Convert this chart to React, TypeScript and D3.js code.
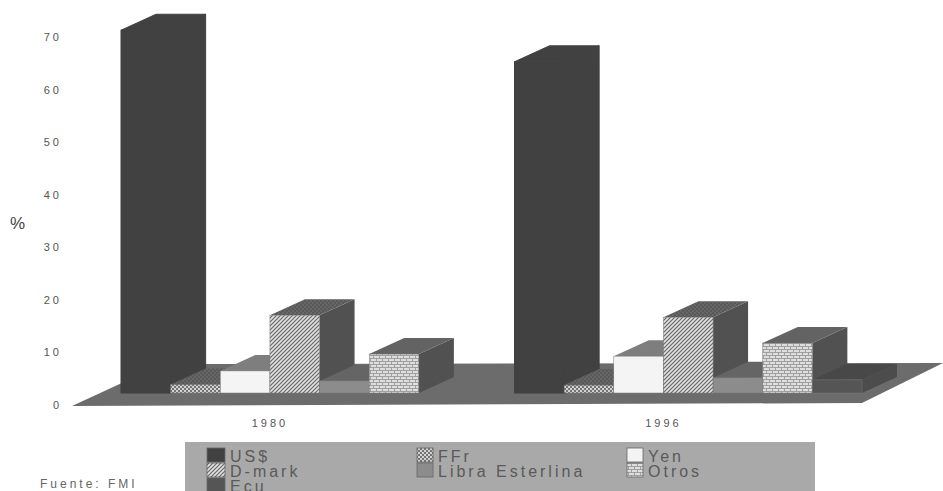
import React from "react";
import * as d3 from "d3";

// Reserve currency shares, in percent
const years = ["1980", "1996"];
const currencies = ["US$", "FFr", "Yen", "D-mark", "Libra Esterlina", "Otros", "Ecu"];
const shares1980 = [69, 1.6, 4.2, 14.8, 2.3, 7.4, 0];
const shares1996 = [63, 1.5, 7, 14.4, 2.9, 9.5, 2.5];
const yTicks = [0, 10, 20, 30, 40, 50, 60, 70];
const legendRows = [
  ["US$", "FFr", "Yen"],
  ["D-mark", "Libra Esterlina", "Otros"],
  ["Ecu"],
];

const WIDTH = 943;
const HEIGHT = 491;
const DEPTH_X = 35;
const DEPTH_Y = 16;
const TICK_DROP = 12;

const frontFill: Record<string, string> = {
  "US$": "#414141",
  FFr: "url(#pat-ffr)",
  Yen: "#f4f4f4",
  "D-mark": "url(#pat-dmark)",
  "Libra Esterlina": "#8c8c8c",
  Otros: "url(#pat-otros)",
  Ecu: "#555555",
};
const sideFill: Record<string, string> = { "US$": "#414141", Ecu: "#4c4c4c" };
const topFill: Record<string, string> = {
  "US$": "#414141",
  FFr: "url(#pat-top)",
  Yen: "#7e7e7e",
  "D-mark": "url(#pat-top)",
  "Libra Esterlina": "#656565",
  Otros: "#636363",
  Ecu: "#484848",
};

const y = d3.scaleLinear().domain([0, 70]).range([393, 25]);
const groupX = d3.scalePoint<string>().domain(years).range([121, 514.5]);
const barX = d3.scaleBand<string>().domain(currencies).range([0, 347.5]);
const legendColX = d3.scaleOrdinal<number, number>().domain([0, 1, 2]).range([207, 417, 627]);
const legendRowY = d3.scaleLinear().domain([0, 2]).range([456, 486]);

const poly = (pts: [number, number][]) => d3.line()(pts) + "Z";

function Bar({ x0, w, value, name }: { x0: number; w: number; value: number; name: string }) {
  if (value <= 0) return null;
  const top = y(value);
  const base = y(0);
  const x1 = x0 + w;
  const solid = name === "US$";
  // The dollar bar is one flat tone, so its faces are outlined in their own fill to hide the seams
  const seam = solid ? { stroke: "#414141", strokeWidth: 1 } : {};
  return (
    <g>
      <path d={poly([[x1, base], [x1 + DEPTH_X, base - DEPTH_Y], [x1 + DEPTH_X, top - DEPTH_Y], [x1, top]])} fill={sideFill[name] ?? "#515151"} {...seam} />
      <path d={poly([[x0, top], [x0 + DEPTH_X, top - DEPTH_Y], [x1 + DEPTH_X, top - DEPTH_Y], [x1, top]])} fill={topFill[name]} {...seam} />
      <rect x={x0} y={top} width={w} height={base - top} fill={frontFill[name]} stroke={solid ? "#414141" : "#777"} strokeWidth={solid ? 1 : 0.5} />
    </g>
  );
}

export default function App() {
  const base = y(0);
  const floor = poly([
    [72, base + 13],
    [163, base - 29],
    [943, base - 30],
    [862, base + 10],
  ]);
  const series = [shares1980, shares1996];
  return (
    <svg
      width={WIDTH}
      height={HEIGHT}
      viewBox={`0 0 ${WIDTH} ${HEIGHT}`}
      style={{ position: "absolute", left: 0, top: 0, background: "#fff" }}
      fontFamily="'Liberation Sans', Arial, sans-serif"
    >
      <defs>
        <pattern id="pat-ffr" width={4} height={4} patternUnits="userSpaceOnUse">
          <rect width={4} height={4} fill="#d2d2d2" />
          <circle cx={1} cy={1} r={1} fill="#555" />
          <circle cx={3} cy={3} r={1} fill="#555" />
        </pattern>
        <pattern id="pat-dmark" width={4} height={4} patternUnits="userSpaceOnUse">
          <rect width={4} height={4} fill="#e2e2e2" />
          <path d="M-1,1 L1,-1 M0,4 L4,0 M3,5 L5,3" stroke="#666" strokeWidth={1.2} />
        </pattern>
        <pattern id="pat-otros" width={6} height={6} patternUnits="userSpaceOnUse">
          <rect width={6} height={6} fill="#dedede" />
          <path d="M0,1.5 H6 M0,4.5 H6 M1.5,1.5 V4.5 M4.5,4.5 V6 M4.5,0 V1.5" stroke="#999" strokeWidth={0.9} />
        </pattern>
        <pattern id="pat-top" width={4} height={4} patternUnits="userSpaceOnUse">
          <rect width={4} height={4} fill="#666" />
          <circle cx={1} cy={1} r={1} fill="#545454" />
          <circle cx={3} cy={3} r={1} fill="#545454" />
        </pattern>
      </defs>

      <path d={floor} fill="#6c6c6c" />

      {yTicks.map((t) => (
        <text key={t} x={62} y={y(t) + TICK_DROP + 4} textAnchor="end" fontSize={11} letterSpacing={3} fill="#555">
          {t}
        </text>
      ))}
      <text x={10} y={229} fontSize={17} fill="#444">%</text>

      {years.map((yr, gi) => {
        const gx = groupX(yr) as number;
        return (
          <g key={yr}>
            {currencies.map((c, i) => (
              <Bar key={c} name={c} value={series[gi][i]} x0={gx + (barX(c) as number)} w={barX.bandwidth()} />
            ))}
            <text x={gx + 149} y={427} textAnchor="middle" fontSize={11} letterSpacing={3} fill="#555">
              {yr}
            </text>
          </g>
        );
      })}

      <rect x={185} y={442} width={630} height={49} fill="#a9a9a9" />
      {legendRows.map((row, r) =>
        row.map((name, c) => {
          const lx = legendColX(c);
          const ly = legendRowY(r);
          return (
            <g key={name}>
              <rect x={lx} y={ly - 8} width={c === 0 ? 18 : 16} height={14} fill={frontFill[name]} stroke="#666" strokeWidth={0.8} />
              <text x={lx + (c === 0 ? 23 : 21)} y={ly + 6} fontSize={16} letterSpacing={3} fill="#5a5a5a">
                {name}
              </text>
            </g>
          );
        })
      )}

      <text x={40} y={488} fontSize={12} letterSpacing={3} fill="#666">Fuente: FMI</text>
    </svg>
  );
}
